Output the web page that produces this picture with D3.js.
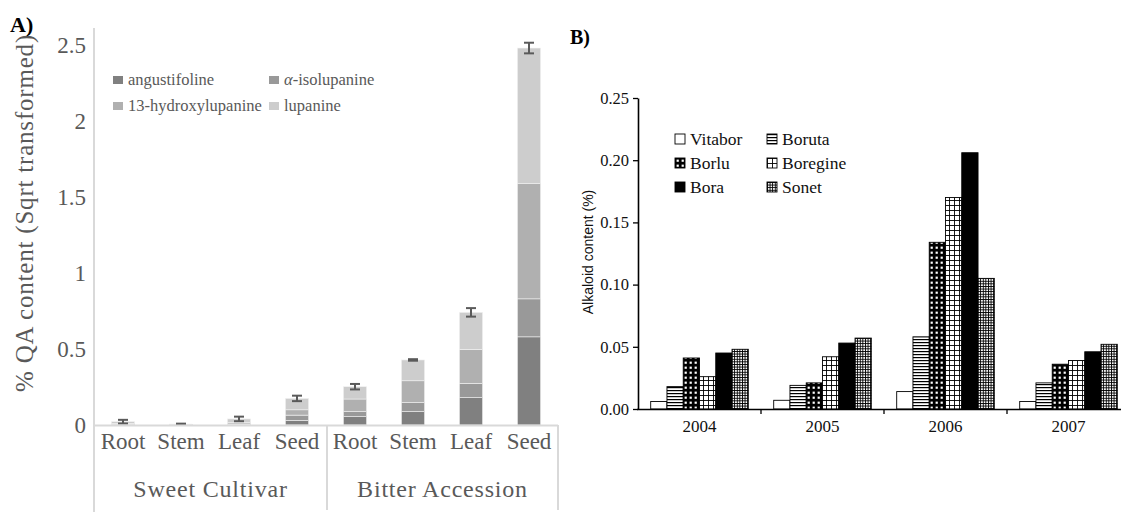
<!DOCTYPE html>
<html>
<head>
<meta charset="utf-8">
<script src="https://cdn.jsdelivr.net/npm/d3@7"></script>
<style>
  body { margin: 0; background: #fff; }
  svg { display: block; }
  .serif { font-family: "Liberation Serif", "Times New Roman", Times, serif; }
  .sans { font-family: "Liberation Sans", Arial, Helvetica, sans-serif; }
</style>
</head>
<body>
<div id="chart"></div>
<script>
// Panel A data
const tissues = ["Root", "Stem", "Leaf", "Seed"];
const groupsA = ["Sweet Cultivar", "Bitter Accession"];
const alkaloids = ["angustifoline", "α-isolupanine", "13-hydroxylupanine", "lupanine"];
const angustifoline = [0.003, 0.001, 0.004, 0.030, 0.055, 0.088, 0.180, 0.580];
const isolupanine   = [0.002, 0.001, 0.003, 0.035, 0.033, 0.060, 0.094, 0.250];
const hydroxylup    = [0.005, 0.001, 0.010, 0.035, 0.083, 0.143, 0.224, 0.760];
const lupanine      = [0.012, 0.003, 0.023, 0.075, 0.081, 0.137, 0.243, 0.890];
const errA          = [0.012, 0.003, 0.015, 0.018, 0.018, 0.005, 0.028, 0.035];
const ticksA = [0, 0.5, 1, 1.5, 2, 2.5];

// Panel B data
const years = ["2004", "2005", "2006", "2007"];
const cultivars = ["Vitabor", "Boruta", "Borlu", "Boregine", "Bora", "Sonet"];
const vitabor  = [0.006, 0.007, 0.014, 0.006];
const boruta   = [0.018, 0.019, 0.058, 0.021];
const borlu    = [0.041, 0.021, 0.134, 0.036];
const boregine = [0.026, 0.042, 0.170, 0.039];
const bora     = [0.045, 0.053, 0.206, 0.046];
const sonet    = [0.048, 0.057, 0.105, 0.052];
const ticksB = [0, 0.05, 0.10, 0.15, 0.20, 0.25];

const W = 1121, H = 512;
const svg = d3.select("#chart").append("svg")
  .attr("width", W).attr("height", H);

const defs = svg.append("defs");

// ---------- Panel A ----------
const gray = "#595959";
const axisGray = "#d9d9d9";
const colorA = d3.scaleOrdinal().domain(alkaloids)
  .range(["#808080", "#999999", "#b0b0b0", "#cdcdcd"]);

const catsA = groupsA.flatMap(g => tissues.map(t => g + "|" + t));
const xA = d3.scaleBand().domain(catsA).range([94, 558]).paddingInner(0.6).paddingOuter(0.3);
const yA = d3.scaleLinear().domain([0, 2.5]).range([425, 45]);

const rowsA = catsA.map((c, i) => ({
  cat: c,
  "angustifoline": angustifoline[i],
  "α-isolupanine": isolupanine[i],
  "13-hydroxylupanine": hydroxylup[i],
  "lupanine": lupanine[i],
  err: errA[i]
}));
const stackA = d3.stack().keys(alkaloids)(rowsA);

const gA = svg.append("g");
gA.selectAll("g.layer").data(stackA).join("g")
  .attr("class", "layer")
  .attr("fill", d => colorA(d.key))
  .selectAll("rect").data(d => d).join("rect")
  .attr("x", d => xA(d.data.cat))
  .attr("width", xA.bandwidth())
  .attr("y", d => yA(d[1]))
  .attr("height", d => yA(d[0]) - yA(d[1]))
  .attr("stroke", "#f2f2f2")
  .attr("stroke-width", 0.6);

// error bars
const errG = gA.selectAll("g.err").data(rowsA).join("g").attr("class", "err")
  .attr("stroke", "#5a5a5a").attr("stroke-width", 2);
errG.each(function(d) {
  const total = alkaloids.reduce((s, k) => s + d[k], 0);
  const cx = xA(d.cat) + xA.bandwidth() / 2;
  const g = d3.select(this);
  g.append("line").attr("x1", cx).attr("x2", cx)
    .attr("y1", yA(total + d.err)).attr("y2", yA(total - d.err));
  [total + d.err, total - d.err].forEach(v => {
    g.append("line").attr("x1", cx - 5).attr("x2", cx + 5)
      .attr("y1", yA(v)).attr("y2", yA(v));
  });
});

// axes A
gA.append("line").attr("x1", 94).attr("x2", 94).attr("y1", 28).attr("y2", 512)
  .attr("stroke", axisGray).attr("stroke-width", 2);
gA.append("line").attr("x1", 94).attr("x2", 558).attr("y1", 425.5).attr("y2", 425.5)
  .attr("stroke", axisGray).attr("stroke-width", 2);
[327, 558].forEach(x => {
  gA.append("line").attr("x1", x).attr("x2", x).attr("y1", 425).attr("y2", 510)
    .attr("stroke", axisGray).attr("stroke-width", 2);
});

gA.selectAll("text.tickA").data(ticksA).join("text")
  .attr("class", "tickA serif")
  .attr("x", 86).attr("y", d => yA(d))
  .attr("dy", "0.35em")
  .attr("text-anchor", "end")
  .attr("font-size", 23).attr("fill", gray)
  .text(d => d);

gA.selectAll("text.catA").data(catsA).join("text")
  .attr("class", "catA serif")
  .attr("x", d => xA(d) + xA.bandwidth() / 2)
  .attr("y", 449)
  .attr("text-anchor", "middle")
  .attr("font-size", 23).attr("fill", gray)
  .text(d => d.split("|")[1]);

gA.selectAll("text.grpA").data(groupsA).join("text")
  .attr("class", "grpA serif")
  .attr("x", (d, i) => i === 0 ? (94 + 327) / 2 : (327 + 558) / 2)
  .attr("y", 497)
  .attr("text-anchor", "middle")
  .attr("font-size", 24).attr("letter-spacing", 0.8).attr("fill", gray)
  .text(d => d);

gA.append("text")
  .attr("class", "serif")
  .attr("transform", "translate(33,213) rotate(-90)")
  .attr("text-anchor", "middle")
  .attr("font-size", 25).attr("letter-spacing", 0.8).attr("fill", gray)
  .text("% QA content (Sqrt transformed)");

// legend A
const legA = gA.selectAll("g.legA").data(alkaloids).join("g")
  .attr("class", "legA")
  .attr("transform", (d, i) => `translate(${i % 2 === 0 ? 113 : 269},${76 + Math.floor(i / 2) * 26})`);
legA.append("rect").attr("width", 10).attr("height", 8).attr("y", 0)
  .attr("fill", d => colorA(d));
legA.each(function(d) {
  const t = d3.select(this).append("text")
    .attr("class", "serif")
    .attr("x", 15).attr("y", 8.5)
    .attr("font-size", 16.5).attr("fill", gray);
  if (d.startsWith("α")) {
    t.append("tspan").attr("font-style", "italic").text("α");
    t.append("tspan").text(d.slice(1));
  } else {
    t.text(d);
  }
});

svg.append("text").attr("class", "serif").attr("x", 10).attr("y", 32)
  .attr("font-weight", "bold").attr("font-size", 22)
  .text("A)");

// ---------- Panel B ----------
function linePattern(id, size, draw, bg) {
  const p = defs.append("pattern").attr("id", id)
    .attr("patternUnits", "userSpaceOnUse")
    .attr("width", size).attr("height", size);
  p.append("rect").attr("width", size).attr("height", size).attr("fill", bg || "#fff");
  draw(p, size);
}
linePattern("p-boruta", 3, (p, s) => {
  p.append("rect").attr("x", 0).attr("y", 0).attr("width", s).attr("height", 1.2).attr("fill", "#000");
});
linePattern("p-borlu", 5, (p, s) => {
  p.append("rect").attr("x", 1.6).attr("y", 1.6).attr("width", 2.2).attr("height", 2.2).attr("fill", "#fff");
}, "#000");
linePattern("p-boregine", 5, (p, s) => {
  p.append("rect").attr("x", 0).attr("y", 0).attr("width", s).attr("height", 0.9).attr("fill", "#000");
  p.append("rect").attr("x", 0).attr("y", 0).attr("width", 0.9).attr("height", s).attr("fill", "#000");
});
linePattern("p-sonet", 2.6, (p, s) => {
  p.append("rect").attr("x", 0).attr("y", 0).attr("width", s).attr("height", 0.9).attr("fill", "#000");
  p.append("rect").attr("x", 0).attr("y", 0).attr("width", 0.9).attr("height", s).attr("fill", "#000");
});

const fillB = d3.scaleOrdinal().domain(cultivars)
  .range(["#fff", "url(#p-boruta)", "url(#p-borlu)", "url(#p-boregine)", "#000", "url(#p-sonet)"]);
const valuesB = { Vitabor: vitabor, Boruta: boruta, Borlu: borlu, Boregine: boregine, Bora: bora, Sonet: sonet };

const xB = d3.scaleBand().domain(years).range([638, 1130]);
const xB1 = d3.scaleBand().domain(cultivars).range([12.7, xB.bandwidth() - 12.7]);
const yB = d3.scaleLinear().domain([0, 0.25]).range([409, 98]);

const gB = svg.append("g");
const yearG = gB.selectAll("g.year").data(years).join("g")
  .attr("class", "year")
  .attr("transform", d => `translate(${xB(d)},0)`);
yearG.selectAll("rect").data((y, i) => cultivars.map(c => ({ c, v: valuesB[c][i] }))).join("rect")
  .attr("x", d => xB1(d.c))
  .attr("width", xB1.bandwidth())
  .attr("y", d => yB(d.v))
  .attr("height", d => yB(0) - yB(d.v))
  .attr("fill", d => fillB(d.c))
  .attr("stroke", "#000").attr("stroke-width", 0.9);

// y axis B
const yAxisB = gB.append("g").attr("transform", "translate(638,0)")
  .call(d3.axisLeft(yB).tickValues(ticksB).tickFormat(d3.format(".2f")).tickSize(5).tickSizeOuter(0));
yAxisB.select(".domain").attr("stroke", "#000").attr("stroke-width", 1.6);
yAxisB.selectAll(".tick line").attr("stroke", "#000").attr("stroke-width", 1.3);
yAxisB.selectAll(".tick text")
  .attr("class", "serif")
  .attr("font-size", 16.5)
  .attr("fill", "#111").attr("x", -9);
yAxisB.attr("font-family", null);

// x axis B
gB.append("line").attr("x1", 637).attr("x2", 1121).attr("y1", 409.5).attr("y2", 409.5)
  .attr("stroke", "#000").attr("stroke-width", 1.6);
gB.selectAll("line.xtick").data(years.slice(1)).join("line")
  .attr("class", "xtick")
  .attr("x1", d => xB(d)).attr("x2", d => xB(d))
  .attr("y1", 409).attr("y2", 414)
  .attr("stroke", "#000").attr("stroke-width", 1.3);
gB.selectAll("text.yearlbl").data(years).join("text")
  .attr("class", "yearlbl serif")
  .attr("x", d => xB(d) + xB.bandwidth() / 2)
  .attr("y", 432)
  .attr("text-anchor", "middle")
  .attr("font-size", 17).attr("fill", "#111")
  .text(d => d);

gB.append("text")
  .attr("class", "sans")
  .attr("transform", "translate(593,252) rotate(-90)")
  .attr("text-anchor", "middle")
  .attr("font-size", 14).attr("fill", "#111")
  .text("Alkaloid content (%)");

// legend B
const legB = gB.selectAll("g.legB").data(cultivars).join("g")
  .attr("class", "legB")
  .attr("transform", (d, i) => `translate(${i % 2 === 0 ? 675 : 767},${134 + Math.floor(i / 2) * 24})`);
legB.append("rect").attr("width", 10).attr("height", 10)
  .attr("fill", d => fillB(d)).attr("stroke", "#000").attr("stroke-width", 0.9);
legB.append("text").attr("class", "serif").attr("x", 15).attr("y", 10.5)
  .attr("font-size", 17.5).attr("fill", "#111")
  .text(d => d);

svg.append("text").attr("class", "serif").attr("x", 570).attr("y", 44)
  .attr("font-weight", "bold").attr("font-size", 20)
  .text("B)");
</script>
</body>
</html>
